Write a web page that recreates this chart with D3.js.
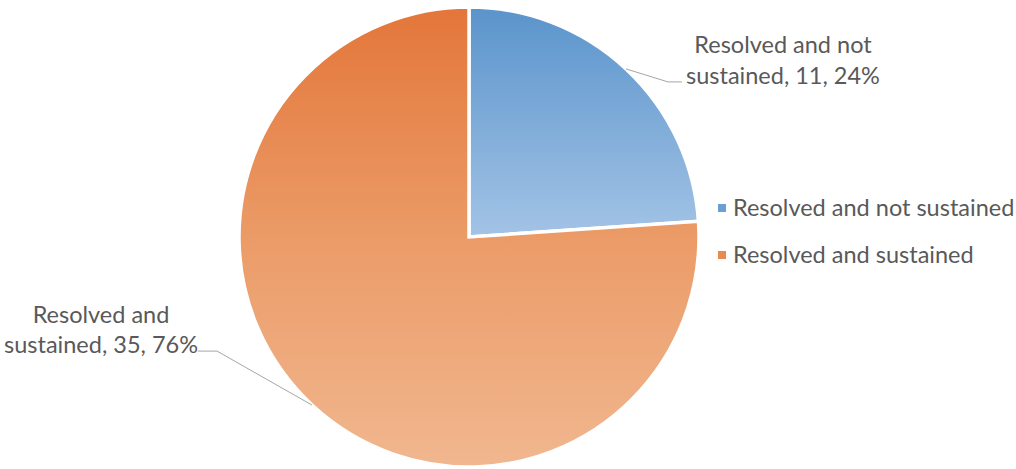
<!DOCTYPE html>
<html>
<head>
<meta charset="utf-8">
<script src="https://cdn.jsdelivr.net/npm/d3@7"></script>
<style>
  body { margin: 0; background: #fff; }
  text { font-family: Lato, "Open Sans", sans-serif; fill: #595959; }
</style>
</head>
<body>
<div id="chart"></div>
<script>
// Data
const categories = ["Resolved and not sustained", "Resolved and sustained"];
const values = [11, 35];
const percents = [24, 76];
const labelLines = [
    ["Resolved and not", "sustained, 11, 24%"],
    ["Resolved and", "sustained, 35, 76%"]
];

function draw() {
    const width = 1016, height = 469;
    const cx = 469, cy = 237, radius = 230;
    const fontSize = 23.5;

    const svg = d3.select("#chart")
        .append("svg")
        .attr("width", width)
        .attr("height", height);

    // Gradients (top darker, bottom lighter)
    const defs = svg.append("defs");
    const gradStops = [
        [["0", "#5a94cb"], ["0.5", "#a3c3e6"], ["1", "#d2e2f3"]],
        [["0", "#e3763a"], ["0.5", "#eb9b67"], ["1", "#f1b78f"]]
    ];
    gradStops.forEach((stops, i) => {
        const g = defs.append("linearGradient")
            .attr("id", "grad" + i)
            .attr("gradientUnits", "userSpaceOnUse")
            .attr("x1", 0).attr("y1", -radius)
            .attr("x2", 0).attr("y2", radius);
        stops.forEach(s => g.append("stop").attr("offset", s[0]).attr("stop-color", s[1]));
    });

    const pie = d3.pie().sort(null).value(d => d);
    const arcs = pie(values);
    const arc = d3.arc().innerRadius(0).outerRadius(radius);

    const g = svg.append("g")
        .attr("transform", `translate(${cx}, ${cy})`);

    g.selectAll("path.slice")
        .data(arcs)
        .join("path")
        .attr("class", "slice")
        .attr("d", arc)
        .attr("fill", (d, i) => `url(#grad${i})`)
        .attr("stroke", "#fff")
        .attr("stroke-width", 3.5)
        .attr("stroke-linejoin", "miter");

    // Data labels with leader lines
    const edgePoint = d => {
        const a = (d.startAngle + d.endAngle) / 2;
        return [Math.sin(a) * radius, -Math.cos(a) * radius];
    };
    const leaderOffsets = [
        { bend: [42, 13], end: [56, 13], textX: 157 },
        { bend: [-95, -54], end: [-114, -54], textX: -211 }
    ];

    arcs.forEach((d, i) => {
        const p = edgePoint(d);
        const o = leaderOffsets[i];
        const pts = [p, [p[0] + o.bend[0], p[1] + o.bend[1]], [p[0] + o.end[0], p[1] + o.end[1]]];
        g.append("path")
            .attr("d", d3.line()(pts))
            .attr("fill", "none")
            .attr("stroke", "#a6a6a6")
            .attr("stroke-width", 1);

        const t = g.append("text")
            .attr("text-anchor", "middle")
            .attr("font-size", fontSize);
        const lastY = p[1] + o.end[1] + 2;
        labelLines[i].forEach((line, j) => {
            t.append("tspan")
                .attr("x", p[0] + o.textX)
                .attr("y", lastY - (labelLines[i].length - 1 - j) * 30.5)
                .text(line);
        });
    });

    // Legend
    const legend = svg.append("g")
        .attr("transform", "translate(718, 208)");
    const rows = legend.selectAll("g")
        .data(categories)
        .join("g")
        .attr("transform", (d, i) => `translate(0, ${i * 47})`);
    rows.append("rect")
        .attr("x", 0).attr("y", -4)
        .attr("width", 8).attr("height", 8)
        .attr("fill", (d, i) => i === 0 ? "#6a9fd3" : "#e88a52");
    rows.append("text")
        .attr("x", 15)
        .attr("y", 8)
        .attr("font-size", fontSize)
        .text(d => d);
}

draw();
</script>
</body>
</html>
